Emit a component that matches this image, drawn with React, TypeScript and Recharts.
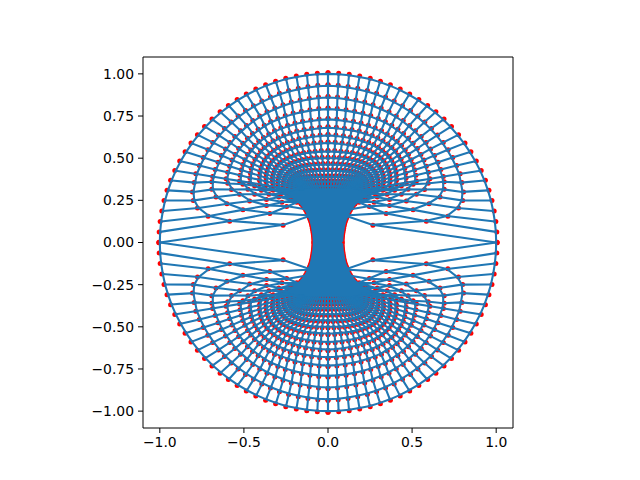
import { ComposedChart, Line, ReferenceLine, Scatter, XAxis, YAxis } from "recharts";

// Mesh. Only the upper left quadrant is listed, the figure is
// symmetric in both axes so the other three are mirrored from it.
// ringX[k][j] / ringY[k][j]: ring k (0 = outer circle), spoke j (0 = left, 25 = top)
const ringX = [
  [-1, -0.998, -0.992, -0.982, -0.969, -0.951, -0.93, -0.905, -0.876, -0.844, -0.809, -0.771, -0.729, -0.685, -0.637, -0.588, -0.536, -0.482, -0.426, -0.368, -0.309, -0.249, -0.187, -0.125, -0.063, 0],
  [-0.262, -0.579, -0.707, -0.77, -0.795, -0.8, -0.79, -0.78, -0.759, -0.736, -0.709, -0.68, -0.646, -0.61, -0.571, -0.53, -0.486, -0.439, -0.39, -0.339, -0.286, -0.232, -0.175, -0.118, -0.06, 0],
  [-0.1, -0.34, -0.5, -0.595, -0.66, -0.685, -0.685, -0.68, -0.665, -0.648, -0.628, -0.604, -0.578, -0.549, -0.515, -0.48, -0.443, -0.402, -0.359, -0.313, -0.265, -0.216, -0.164, -0.11, -0.056, 0],
  [-0.09, -0.24, -0.36, -0.46, -0.52, -0.568, -0.59, -0.6, -0.591, -0.579, -0.565, -0.547, -0.526, -0.501, -0.474, -0.444, -0.411, -0.375, -0.337, -0.295, -0.251, -0.205, -0.156, -0.106, -0.054, 0],
  [-0.085, -0.18, -0.268, -0.36, -0.43, -0.47, -0.5, -0.52, -0.517, -0.51, -0.501, -0.489, -0.473, -0.454, -0.432, -0.407, -0.379, -0.348, -0.314, -0.277, -0.237, -0.194, -0.149, -0.101, -0.052, 0],
  [-0.085, -0.14, -0.21, -0.287, -0.345, -0.39, -0.43, -0.46, -0.459, -0.456, -0.451, -0.442, -0.429, -0.414, -0.396, -0.375, -0.351, -0.323, -0.292, -0.259, -0.222, -0.183, -0.14, -0.096, -0.049, 0],
  [-0.08, -0.12, -0.17, -0.23, -0.27, -0.32, -0.37, -0.4, -0.402, -0.402, -0.399, -0.393, -0.384, -0.373, -0.358, -0.34, -0.319, -0.295, -0.268, -0.238, -0.205, -0.17, -0.131, -0.09, -0.046, 0],
  [-0.08, -0.1, -0.14, -0.19, -0.23, -0.28, -0.33, -0.36, -0.363, -0.363, -0.362, -0.357, -0.349, -0.339, -0.326, -0.31, -0.292, -0.27, -0.245, -0.218, -0.188, -0.156, -0.12, -0.082, -0.042, 0],
  [-0.075, -0.09, -0.12, -0.16, -0.2, -0.25, -0.29, -0.32, -0.323, -0.325, -0.324, -0.32, -0.313, -0.306, -0.294, -0.28, -0.264, -0.244, -0.223, -0.198, -0.171, -0.142, -0.109, -0.075, -0.039, 0],
  [-0.07, -0.08, -0.105, -0.14, -0.175, -0.22, -0.26, -0.29, -0.292, -0.292, -0.29, -0.286, -0.28, -0.272, -0.261, -0.248, -0.233, -0.216, -0.196, -0.174, -0.15, -0.124, -0.096, -0.066, -0.034, 0],
  [-0.065, -0.075, -0.095, -0.125, -0.155, -0.195, -0.235, -0.26, -0.26, -0.259, -0.257, -0.253, -0.246, -0.238, -0.228, -0.216, -0.203, -0.187, -0.17, -0.151, -0.129, -0.107, -0.082, -0.056, -0.029, 0],
  [-0.06, -0.07, -0.085, -0.11, -0.14, -0.175, -0.21, -0.23, -0.23, -0.229, -0.227, -0.223, -0.217, -0.21, -0.201, -0.19, -0.178, -0.164, -0.149, -0.132, -0.113, -0.093, -0.072, -0.049, -0.025, 0],
  [-0.055, -0.065, -0.08, -0.1, -0.125, -0.155, -0.19, -0.205, -0.205, -0.204, -0.201, -0.198, -0.192, -0.186, -0.178, -0.168, -0.157, -0.145, -0.131, -0.116, -0.1, -0.082, -0.063, -0.043, -0.022, 0],
  [-0.05, -0.06, -0.07, -0.09, -0.115, -0.14, -0.17, -0.185, -0.184, -0.182, -0.18, -0.176, -0.17, -0.164, -0.156, -0.148, -0.138, -0.127, -0.115, -0.101, -0.087, -0.071, -0.055, -0.037, -0.019, 0],
  [-0.045, -0.05, -0.065, -0.085, -0.105, -0.13, -0.155, -0.17, -0.169, -0.166, -0.163, -0.159, -0.154, -0.147, -0.14, -0.132, -0.123, -0.113, -0.101, -0.089, -0.076, -0.063, -0.048, -0.033, -0.017, 0],
  [-0.04, -0.05, -0.06, -0.08, -0.095, -0.12, -0.14, -0.155, -0.153, -0.151, -0.147, -0.143, -0.139, -0.133, -0.126, -0.119, -0.11, -0.101, -0.091, -0.08, -0.068, -0.056, -0.043, -0.029, -0.015, 0],
  [-0.04, -0.045, -0.055, -0.07, -0.09, -0.11, -0.13, -0.14, -0.139, -0.137, -0.134, -0.131, -0.126, -0.121, -0.115, -0.108, -0.101, -0.092, -0.083, -0.073, -0.062, -0.051, -0.039, -0.027, -0.014, 0],
];
const ringY = [
  [0, 0.063, 0.125, 0.187, 0.249, 0.309, 0.368, 0.426, 0.482, 0.536, 0.588, 0.637, 0.685, 0.729, 0.771, 0.809, 0.844, 0.876, 0.905, 0.93, 0.951, 0.969, 0.982, 0.992, 0.998, 1],
  [0.105, 0.127, 0.157, 0.205, 0.25, 0.3, 0.355, 0.406, 0.455, 0.502, 0.548, 0.591, 0.634, 0.673, 0.711, 0.746, 0.778, 0.807, 0.834, 0.858, 0.879, 0.896, 0.909, 0.919, 0.927, 0.93],
  [0.16, 0.174, 0.195, 0.23, 0.27, 0.315, 0.36, 0.39, 0.432, 0.474, 0.514, 0.552, 0.59, 0.625, 0.659, 0.69, 0.719, 0.746, 0.771, 0.792, 0.811, 0.827, 0.839, 0.85, 0.857, 0.86],
  [0.19, 0.215, 0.22, 0.246, 0.286, 0.314, 0.35, 0.377, 0.415, 0.451, 0.487, 0.52, 0.554, 0.585, 0.614, 0.642, 0.667, 0.691, 0.713, 0.731, 0.748, 0.762, 0.773, 0.782, 0.788, 0.791],
  [0.21, 0.24, 0.24, 0.256, 0.286, 0.315, 0.345, 0.364, 0.397, 0.429, 0.46, 0.489, 0.519, 0.546, 0.572, 0.596, 0.618, 0.639, 0.659, 0.675, 0.69, 0.703, 0.713, 0.721, 0.727, 0.73],
  [0.225, 0.25, 0.25, 0.27, 0.286, 0.31, 0.335, 0.354, 0.383, 0.411, 0.439, 0.465, 0.491, 0.515, 0.539, 0.56, 0.58, 0.599, 0.616, 0.631, 0.644, 0.656, 0.665, 0.672, 0.677, 0.68],
  [0.235, 0.255, 0.26, 0.27, 0.29, 0.31, 0.32, 0.345, 0.37, 0.395, 0.419, 0.442, 0.465, 0.486, 0.507, 0.526, 0.543, 0.56, 0.576, 0.589, 0.601, 0.612, 0.62, 0.627, 0.632, 0.635],
  [0.24, 0.26, 0.265, 0.275, 0.29, 0.305, 0.315, 0.338, 0.361, 0.383, 0.404, 0.425, 0.445, 0.464, 0.482, 0.498, 0.513, 0.528, 0.541, 0.553, 0.563, 0.572, 0.578, 0.584, 0.588, 0.59],
  [0.25, 0.265, 0.27, 0.28, 0.29, 0.3, 0.315, 0.332, 0.352, 0.371, 0.389, 0.407, 0.424, 0.44, 0.455, 0.469, 0.482, 0.493, 0.504, 0.513, 0.521, 0.528, 0.533, 0.536, 0.539, 0.54],
  [0.255, 0.27, 0.275, 0.28, 0.29, 0.3, 0.31, 0.327, 0.344, 0.361, 0.378, 0.393, 0.408, 0.421, 0.435, 0.446, 0.457, 0.466, 0.475, 0.482, 0.488, 0.493, 0.497, 0.499, 0.5, 0.5],
  [0.26, 0.27, 0.275, 0.28, 0.29, 0.3, 0.31, 0.322, 0.338, 0.352, 0.367, 0.38, 0.392, 0.403, 0.414, 0.423, 0.431, 0.439, 0.445, 0.45, 0.454, 0.458, 0.46, 0.461, 0.462, 0.462],
  [0.265, 0.275, 0.28, 0.285, 0.29, 0.3, 0.305, 0.317, 0.331, 0.343, 0.355, 0.366, 0.376, 0.385, 0.393, 0.4, 0.406, 0.412, 0.416, 0.419, 0.422, 0.423, 0.424, 0.425, 0.425, 0.425],
  [0.27, 0.275, 0.28, 0.285, 0.29, 0.3, 0.305, 0.313, 0.325, 0.336, 0.346, 0.355, 0.362, 0.37, 0.376, 0.379, 0.382, 0.384, 0.386, 0.387, 0.388, 0.389, 0.39, 0.39, 0.39, 0.39],
  [0.27, 0.28, 0.28, 0.285, 0.29, 0.295, 0.3, 0.31, 0.32, 0.33, 0.336, 0.341, 0.345, 0.348, 0.351, 0.353, 0.355, 0.356, 0.357, 0.358, 0.359, 0.36, 0.36, 0.36, 0.36, 0.36],
  [0.275, 0.28, 0.28, 0.285, 0.29, 0.295, 0.3, 0.307, 0.312, 0.316, 0.32, 0.323, 0.325, 0.327, 0.329, 0.33, 0.331, 0.332, 0.333, 0.334, 0.334, 0.335, 0.335, 0.335, 0.335, 0.335],
  [0.275, 0.28, 0.28, 0.285, 0.29, 0.295, 0.3, 0.305, 0.307, 0.309, 0.31, 0.311, 0.312, 0.313, 0.314, 0.314, 0.315, 0.315, 0.315, 0.316, 0.316, 0.316, 0.316, 0.316, 0.316, 0.316],
  [0.28, 0.28, 0.285, 0.285, 0.29, 0.295, 0.3, 0.3, 0.3, 0.3, 0.3, 0.3, 0.3, 0.3, 0.3, 0.3, 0.3, 0.3, 0.3, 0.3, 0.3, 0.3, 0.3, 0.3, 0.3, 0.3],
];

// edge of the central stalk, half width at each height
const stalkY = [0, 0.012, 0.024, 0.036, 0.048, 0.06, 0.072, 0.084, 0.096, 0.108, 0.12, 0.132, 0.144, 0.156, 0.168, 0.18, 0.192, 0.204, 0.216, 0.228, 0.24, 0.252, 0.264, 0.276, 0.288, 0.3, 0.312];
const stalkX = [0.084, 0.084, 0.085, 0.086, 0.087, 0.089, 0.091, 0.093, 0.095, 0.098, 0.101, 0.105, 0.11, 0.115, 0.12, 0.126, 0.133, 0.141, 0.15, 0.16, 0.172, 0.185, 0.2, 0.22, 0.24, 0.2, 0.14];

const xTicks = [-1, -0.5, 0, 0.5, 1];
const yTicks = [-1, -0.75, -0.5, -0.25, 0, 0.25, 0.5, 0.75, 1];

type Pt = { x: number; y: number };

const spokes = ringX[0].map((_, j) => ringX.map((_, k) => ({ x: ringX[k][j], y: ringY[k][j] })));
const rings = ringX.map((xs, k) => xs.map((x, j) => ({ x, y: ringY[k][j] })));

const flip = (pts: Pt[], sx: number, sy: number) => pts.map((p) => ({ x: p.x * sx, y: p.y * sy }));
const fullRing = (pts: Pt[]) => [...pts, ...flip(pts, -1, 1).reverse().slice(1)];

const curves: Pt[][] = [];
for (const sy of [1, -1]) {
  rings.forEach((r) => curves.push(flip(fullRing(r), 1, sy)));
  for (const sx of [1, -1]) spokes.forEach((s) => curves.push(flip(s, sx, sy)));
}

// zigzag from edge to edge fills the stalk
const stalk: Pt[] = [];
[...stalkY.map((y, i) => ({ y: -y, w: stalkX[i] })).reverse(), ...stalkY.map((y, i) => ({ y, w: stalkX[i] }))].forEach((r, i) => {
  const side = i % 2 === 0 ? 1 : -1;
  stalk.push({ x: -side * r.w, y: r.y }, { x: side * r.w, y: r.y });
});

// the red points sit about a pixel outside the line crossings in the picture
const outward = (p: Pt) => {
  const dx = p.x;
  const dy = p.y - 0.28;
  const len = Math.hypot(dx, dy) || 1;
  return { x: p.x + (dx / len) * 0.006, y: p.y + (dy / len) * 0.006 };
};

const dots: Pt[] = [];
for (const sy of [1, -1]) {
  for (const sx of [1, -1]) {
    rings.forEach((r) => dots.push(...flip(r.map(outward), sx, sy)));
    stalkY.slice(0, 24).forEach((y, i) => dots.push({ x: -stalkX[i] * sx, y: y * sy }));
  }
}

const tickStyle = { fontSize: 13.9, fontFamily: "DejaVu Sans", fill: "#000" };
const minus = (s: string) => s.replace("-", "\u2212");
const RedDot = (p: any) => <circle cx={p.cx} cy={p.cy} r={2.5} fill="#ff0000" />;

export default function App() {
  return (
    <div style={{ position: "absolute", left: 0, top: 0, width: 640, height: 480, background: "#fff" }}>
      <ComposedChart width={640} height={480} margin={{ top: 57, right: 127, left: 0, bottom: 0 }}>
        <XAxis
          type="number"
          dataKey="x"
          domain={[-1.1, 1.1]}
          ticks={xTicks}
          allowDataOverflow
          height={52}
          tick={tickStyle}
          tickSize={5}
          tickMargin={4}
          interval={0}
          stroke="#000"
          tickFormatter={(v: number) => minus(v.toFixed(1))}
        />
        <YAxis
          type="number"
          dataKey="y"
          domain={[-1.1, 1.1]}
          ticks={yTicks}
          allowDataOverflow
          width={143}
          tick={tickStyle}
          tickSize={5}
          tickMargin={4}
          interval={0}
          stroke="#000"
          tickFormatter={(v: number) => minus(v.toFixed(2))}
        />
        <ReferenceLine x={1.1} stroke="#000" />
        <ReferenceLine y={1.1} stroke="#000" />
        <Scatter data={dots} dataKey="y" shape={RedDot} isAnimationActive={false} zIndex={100} legendType="none" />
        {curves.map((c, i) => (
          <Line key={i} data={c} dataKey="y" stroke="#1f77b4" strokeWidth={2.08} dot={false} isAnimationActive={false} legendType="none" />
        ))}
        <Line data={stalk} dataKey="y" stroke="#1f77b4" strokeWidth={2.3} dot={false} isAnimationActive={false} legendType="none" />
      </ComposedChart>
    </div>
  );
}
